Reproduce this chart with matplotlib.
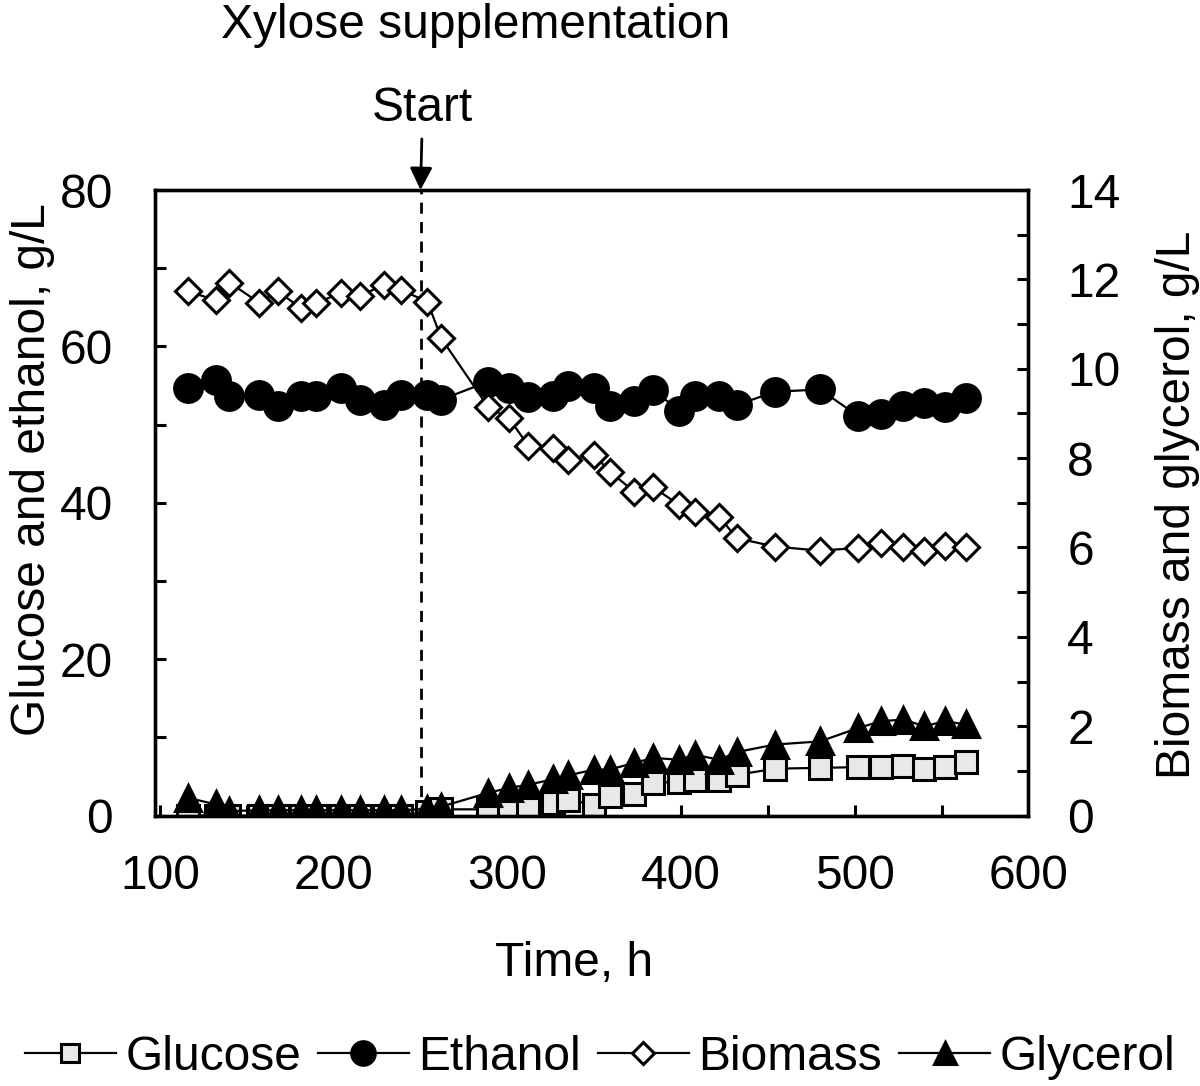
import matplotlib
matplotlib.use("Agg")
import matplotlib.pyplot as plt
from matplotlib.ticker import MultipleLocator

plt.rcParams['font.family'] = ['Liberation Sans', 'DejaVu Sans']

# ---- data ----
time_h = [116, 132, 140, 157, 168, 181, 190, 204, 215, 229, 239, 254, 262,
          289, 301, 312, 326, 335, 350, 359, 373, 384, 399, 408, 422, 432,
          454, 480, 502, 515, 528, 540, 552, 564]
glucose = [0, 0, 0, 0, 0, 0, 0, 0, 0, 0, 0, 0.5, 0.8,
           0.8, 1.0, 1.2, 1.6, 2.0, 1.4, 2.5, 2.7, 4.2, 4.3, 4.6, 4.6, 5.2,
           6.0, 6.1, 6.2, 6.2, 6.3, 6.0, 6.2, 6.8]
ethanol = [54.7, 55.7, 53.6, 53.8, 52.4, 53.6, 53.6, 54.7, 53.2, 52.5, 53.8, 53.8, 53.2,
           55.5, 54.7, 53.5, 53.7, 54.9, 54.7, 52.4, 53.0, 54.4, 51.8, 53.7, 53.7, 52.5,
           54.2, 54.5, 51.1, 51.4, 52.4, 52.8, 52.3, 53.4]
biomass = [11.73, 11.54, 11.93, 11.48, 11.73, 11.36, 11.47, 11.70, 11.63, 11.88, 11.76, 11.50, 10.68,
           9.14, 8.89, 8.28, 8.22, 7.96, 8.07, 7.70, 7.25, 7.35, 6.95, 6.80, 6.69, 6.21,
           6.02, 5.93, 5.99, 6.10, 6.02, 5.93, 6.04, 6.02]
glycerol = [0.40, 0.25, 0.10, 0.12, 0.12, 0.12, 0.12, 0.12, 0.12, 0.12, 0.12, 0.15, 0.20,
            0.51, 0.62, 0.69, 0.81, 0.90, 1.03, 1.03, 1.18, 1.29, 1.25, 1.36, 1.25, 1.42,
            1.59, 1.66, 1.96, 2.11, 2.15, 2.00, 2.11, 2.04]
xylose_start = 250

FS = 34.5
fig = plt.figure(figsize=(12, 10.86), dpi=100)
ax = fig.add_axes([0.129, 0.249, 0.728, 0.576])
ax2 = ax.twinx()

common = dict(color="black", lw=1.6, mew=2.2, mec="black")
h1, = ax.plot(time_h, glucose, marker="s", ms=16, mfc="#e8e8e8", label="Glucose", **common)
h2, = ax.plot(time_h, ethanol, marker="o", ms=20, mfc="black", label="Ethanol", **common)
h3, = ax2.plot(time_h, biomass, marker="D", ms=13.5, mfc="white", label="Biomass", **common)
h4, = ax2.plot(time_h, glycerol, marker="^", ms=19, mfc="black", label="Glycerol", **common)

ax.axvline(xylose_start, color="black", lw=2, ls=(0, (4, 3)), zorder=0)

ax.set_xlim(97, 600)
ax.set_ylim(0, 80)
ax2.set_ylim(0, 14)
ax.xaxis.set_major_locator(MultipleLocator(100))
ax.xaxis.set_minor_locator(MultipleLocator(50))
ax.yaxis.set_major_locator(MultipleLocator(20))
ax.yaxis.set_minor_locator(MultipleLocator(10))
ax2.yaxis.set_major_locator(MultipleLocator(2))
ax2.yaxis.set_minor_locator(MultipleLocator(1))

for a in (ax, ax2):
    for s in a.spines.values():
        s.set_linewidth(2.4)
    a.tick_params(which="both", direction="in", width=2.2, length=8, labelsize=FS)
ax.tick_params(axis="y", pad=30)
ax.tick_params(axis="x", pad=28)
ax2.tick_params(axis="y", pad=28)

ax.set_xlabel("Time, h", fontsize=FS)
ax.xaxis.set_label_coords(0.48, -0.2)
fig.text(0.027, 1 - 470 / 1086, "Glucose and ethanol, g/L", rotation=90,
         ha="center", va="center", fontsize=FS)
fig.text(0.981, 1 - 505 / 1086, "Biomass and glycerol, g/L", rotation=90,
         ha="center", va="center", fontsize=FS)

fig.text(0.396, 1 - 25 / 1086, "Xylose supplementation", ha="center", va="center", fontsize=FS)
ax.annotate("Start", xy=(xylose_start, 80), xytext=(1.5, 59), textcoords="offset points",
            ha="center", va="center", fontsize=FS, annotation_clip=False,
            arrowprops=dict(arrowstyle="-|>", color="black", lw=2, mutation_scale=34,
                            shrinkA=4, shrinkB=0))

fig.legend(handles=[h1, h2, h3, h4], loc="center", bbox_to_anchor=(0.5, 0.026),
           ncol=4, frameon=False, fontsize=FS, markerscale=0.85,
           handlelength=1.9, handletextpad=0.2, columnspacing=0.35)

fig.savefig("out.png", dpi=100)
